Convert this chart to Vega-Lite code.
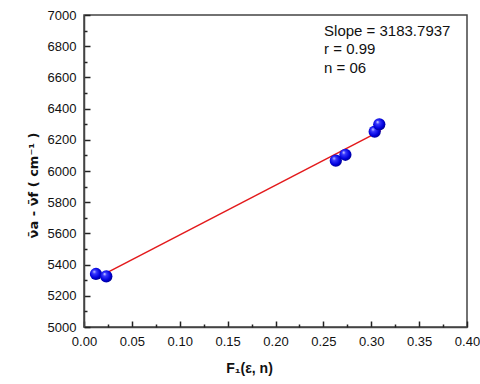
{
  "$schema": "https://vega.github.io/schema/vega-lite/v6.json",
  "width": 383,
  "height": 312,
  "padding": {"left": 27, "top": 9, "right": 5, "bottom": 5},
  "background": "white",
  "config": {
    "font": "Liberation Sans",
    "view": {"stroke": "#444444", "strokeWidth": 1.5},
    "axis": {
      "grid": false,
      "domainColor": "#444444",
      "domainWidth": 1.5,
      "tickColor": "#222222",
      "tickWidth": 1.5,
      "labelFont": "Liberation Sans",
      "labelFontSize": 13,
      "labelColor": "#111111",
      "titleFont": "Liberation Sans",
      "titleFontSize": 14,
      "titleFontWeight": "bold",
      "titleColor": "#111111",
      "labelOverlap": false,
      "labelFlush": false
    }
  },
  "datasets": {
    "pts": [
      {"f": 0.0125, "dv": 5340},
      {"f": 0.0233, "dv": 5325},
      {"f": 0.263, "dv": 6066},
      {"f": 0.273, "dv": 6104},
      {"f": 0.3036, "dv": 6252},
      {"f": 0.3084, "dv": 6299}
    ],
    "fit": [
      {"f": 0.0125, "dv": 5312},
      {"f": 0.31, "dv": 6259}
    ],
    "notes": [
      {"f": 0.2507, "dv": 6899, "t": "Slope = 3183.7937"},
      {"f": 0.2507, "dv": 6782, "t": "r = 0.99"},
      {"f": 0.2507, "dv": 6660, "t": "n = 06"}
    ]
  },
  "resolve": {"axis": {"x": "independent", "y": "independent"}},
  "layer": [
    {
      "data": {"name": "fit"},
      "mark": {"type": "line", "color": "#e31a1c", "strokeWidth": 1.5},
      "encoding": {
        "x": {
          "field": "f", "type": "quantitative",
          "scale": {"domain": [0, 0.4], "nice": false, "zero": false},
          "axis": {
            "orient": "bottom",
            "title": "F₁(ε, n)",
            "values": [0, 0.05, 0.1, 0.15, 0.2, 0.25, 0.3, 0.35, 0.4],
            "format": ".2f",
            "tickSize": -6,
            "labelPadding": 14,
            "labelOverlap": false,
            "labelFlush": false,
            "titleX": 165,
            "titleY": 34
          }
        },
        "y": {
          "field": "dv", "type": "quantitative",
          "scale": {"domain": [5000, 7000], "nice": false, "zero": false},
          "axis": {
            "orient": "left",
            "title": "ν̄a - ν̄f  ( cm⁻¹ )",
            "titleFont": "DejaVu Sans",
            "titleFontSize": 13,
            "values": [5000, 5200, 5400, 5600, 5800, 6000, 6200, 6400, 6600, 6800, 7000],
            "format": "d",
            "tickSize": -6,
            "labelPadding": 14,
            "labelOverlap": false,
            "labelFlush": false,
            "titleX": -44,
            "titleY": 170
          }
        }
      }
    },
    {
      "data": {"name": "pts"},
      "mark": {
        "type": "point", "filled": true, "size": 150, "opacity": 1,
        "fill": {
          "gradient": "radial",
          "x1": 0.35, "y1": 0.3, "r1": 0,
          "x2": 0.45, "y2": 0.45, "r2": 0.6,
          "stops": [
            {"offset": 0, "color": "#e0e0ff"},
            {"offset": 0.25, "color": "#3a3aff"},
            {"offset": 0.7, "color": "#0000dd"},
            {"offset": 1, "color": "#000080"}
          ]
        }
      },
      "encoding": {
        "x": {
          "field": "f", "type": "quantitative",
          "axis": {
            "orient": "bottom",
            "title": null,
            "values": [0.025, 0.075, 0.125, 0.175, 0.225, 0.275, 0.325, 0.375],
            "labels": false,
            "domain": false,
            "tickSize": 3,
            "offset": -3
          }
        },
        "y": {
          "field": "dv", "type": "quantitative",
          "axis": {
            "orient": "left",
            "title": null,
            "values": [5100, 5300, 5500, 5700, 5900, 6100, 6300, 6500, 6700, 6900],
            "labels": false,
            "domain": false,
            "tickSize": 3,
            "offset": -3
          }
        }
      }
    },
    {
      "data": {"name": "notes"},
      "mark": {"type": "text", "align": "left", "baseline": "middle", "fontSize": 15, "font": "Liberation Sans", "color": "#111111"},
      "encoding": {
        "x": {"field": "f", "type": "quantitative", "axis": null},
        "y": {"field": "dv", "type": "quantitative", "axis": null},
        "text": {"field": "t"}
      }
    }
  ]
}
